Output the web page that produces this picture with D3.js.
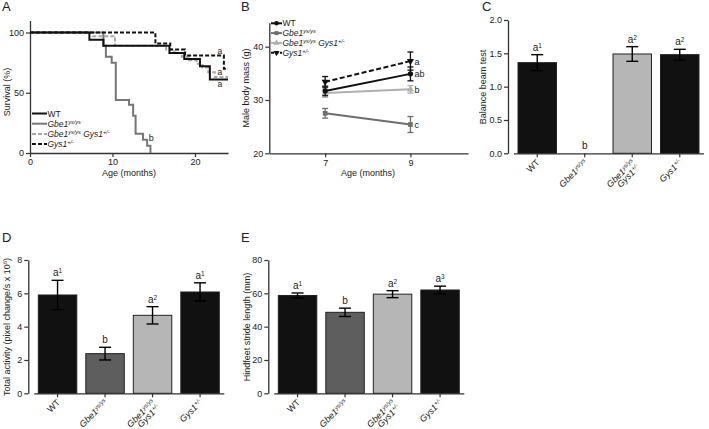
<!DOCTYPE html>
<html><head><meta charset="utf-8">
<script src="https://cdn.jsdelivr.net/npm/d3@7"></script>
<style>
body{margin:0;background:#fff}
text{font-family:"Liberation Sans",Arial,sans-serif;fill:#222}
</style></head><body><div id="fig"></div>
<script>
// ---- data ----
// A: Kaplan-Meier steps [age in months, survival %]
var survWT   = [[0,100],[7.2,94],[8.9,89],[16.9,83],[18.7,78],[20.6,72],[21.8,61],[24,61]];
var survGbe  = [[0,100],[8.9,89],[9.2,80],[9.9,75],[10.4,44],[12.0,40],[12.5,31],[12.8,16],[13.7,11],[14.2,6],[14.6,0]];
var survDbl  = [[0,100],[7.6,97],[10.3,89],[16.5,86],[17.5,83],[18.4,80],[19.3,77],[20.2,74],[20.9,71],[21.6,67],[22.4,63],[24,63]];
var survGys  = [[0,100],[15.2,91],[17.0,86],[18.8,81],[23.5,70],[24,70]];
var survSig  = [["a",85],["a",67],["a",57.5]];

// B: male body mass (g) at 7 and 9 months
var massAges = [7,9];
var massWT  = [31.7,34.9], massWTe  = [0.9,1.3];
var massGbe = [27.5,25.4], massGbee = [0.9,1.5];
var massDbl = [31.3,32.0], massDble = [0.8,0.7];
var massGys = [33.4,37.3], massGyse = [1.0,1.7];
var massSig = ["ab","c","b","a"];

// C, D, E: groups
var groups = ["WT","Gbe1","Dbl","Gys1"];
var balance = [1.36,0,1.49,1.48], balanceErr = [0.12,0,0.11,0.08], balanceSig = ["a1","b","a2","a2"];
var activity = [5.9,2.38,4.68,6.08], activityErr = [0.88,0.38,0.52,0.55], activitySig = ["a1","b","a2","a1"];
var stride = [58.7,48.6,59.5,62.0], strideErr = [1.5,2.5,2.1,2.3], strideSig = ["a1","b","a2","a3"];
var barColor = ["#111","#5e5e5e","#b6b6b6","#111"];

var svg = d3.select("#fig").append("svg").attr("width",709).attr("height",429);

// rich text: parts are [text, italic, superscript]
function rich(t, parts){
  var up = false;
  parts.forEach(function(p){
    var s = t.append("tspan").text(p[0]);
    if(p[1]) s.attr("font-style","italic");
    if(p[2] && !up){ s.attr("dy",-3).attr("font-size","0.65em"); up = true; }
    else if(!p[2] && up){ s.attr("dy",3); up = false; }
    else if(p[2]) s.attr("font-size","0.65em");
  });
  return t;
}
var names = {
  WT:[["WT"]],
  Gbe1:[["Gbe1",1],["ys/ys",1,1]],
  Dbl:[["Gbe1",1],["ys/ys",1,1],[" Gys1",1],["+/-",1,1]],
  Gys1:[["Gys1",1],["+/-",1,1]]
};
function sig(t, s){
  if(s.length>1) rich(t,[[s[0]],[s[1],0,1]]); else t.text(s);
}

function styleAxis(g){
  g.selectAll(".domain").attr("stroke","#333").attr("stroke-width",1.3);
  g.selectAll(".tick line").attr("stroke","#333").attr("stroke-width",1.2);
  g.selectAll(".tick text").attr("font-size",9).attr("fill","#333")
    .attr("font-family","Liberation Sans,Arial,sans-serif");
}
function letter(x,y,s){
  svg.append("text").attr("x",x).attr("y",y).attr("font-size",13).text(s);
}
function ytitle(x,cy,parts){
  var t = svg.append("text").attr("transform","translate("+x+","+cy+") rotate(-90)")
    .attr("text-anchor","middle").attr("font-size",9);
  rich(t,parts);
}

// ---------- A ----------
letter(2,11,"A");
var xA = d3.scaleLinear().domain([0,24]).range([30,228]);
var yA = d3.scaleLinear().domain([0,110]).range([153,20.5]);
svg.append("g").attr("transform","translate(0,153)")
  .call(d3.axisBottom(xA).tickValues([0,10,20]).tickSize(4).tickSizeOuter(0).tickPadding(2)).call(styleAxis);
svg.append("g").attr("transform","translate(30,0)")
  .call(d3.axisLeft(yA).tickValues([0,50,100]).tickSize(4).tickSizeOuter(0).tickPadding(2)).call(styleAxis);
svg.append("text").attr("x",129).attr("y",176).attr("text-anchor","middle").attr("font-size",9).text("Age (months)");
ytitle(10,92,[["Survival (%)"]]);

var stepLine = d3.line().x(function(d){return xA(d[0]);}).y(function(d){return yA(d[1]);}).curve(d3.curveStepAfter);
var survSeries = [
  {d:survDbl, c:"#a8a8a8", dash:"4,2", key:"Dbl"},
  {d:survGbe, c:"#777", dash:null, key:"Gbe1"},
  {d:survWT, c:"#111", dash:null, key:"WT"},
  {d:survGys, c:"#111", dash:"4,2", key:"Gys1"}
];
survSeries.forEach(function(s){
  svg.append("path").attr("d",stepLine(s.d)).attr("fill","none")
    .attr("stroke",s.c).attr("stroke-width",2).attr("stroke-dasharray",s.dash);
});
survSig.forEach(function(s){
  svg.append("text").attr("x",xA(23.0)).attr("y",yA(s[1])+3).attr("text-anchor","middle")
    .attr("font-size",8.5).text(s[0]);
});
svg.append("text").attr("x",xA(14.4)).attr("y",yA(12.5)+3).attr("font-size",9).text("b");
// legend A
["WT","Gbe1","Dbl","Gys1"].forEach(function(k,i){
  var s = survSeries.filter(function(q){return q.key===k;})[0];
  var y = 113.5 + i*10.2;
  svg.append("line").attr("x1",32).attr("x2",47).attr("y1",y).attr("y2",y)
    .attr("stroke",s.c).attr("stroke-width",2).attr("stroke-dasharray",s.dash);
  rich(svg.append("text").attr("x",47.5).attr("y",y+3).attr("font-size",8.5), names[k]);
});

// ---------- B ----------
letter(241,11,"B");
var xB = d3.scaleLinear().domain([5.69,10.35]).range([269.3,468]);
var yB = d3.scaleLinear().domain([20,44.5]).range([153.3,22.7]);
svg.append("g").attr("transform","translate(0,153.3)")
  .call(d3.axisBottom(xB).tickValues(massAges).tickFormat(d3.format("d")).tickSize(4).tickSizeOuter(0).tickPadding(2)).call(styleAxis);
svg.append("g").attr("transform","translate(269.3,0)")
  .call(d3.axisLeft(yB).tickValues([20,30,40]).tickSize(4).tickSizeOuter(0).tickPadding(2)).call(styleAxis);
svg.append("text").attr("x",368).attr("y",176).attr("text-anchor","middle").attr("font-size",9).text("Age (months)");
ytitle(249,88,[["Male body mass (g)"]]);

var massSeries = [
  {v:massDbl, e:massDble, c:"#b0b0b0", dash:null, sym:d3.symbolTriangle, rot:0, key:"Dbl"},
  {v:massGbe, e:massGbee, c:"#6f6f6f", dash:null, sym:d3.symbolSquare, rot:0, key:"Gbe1"},
  {v:massWT, e:massWTe, c:"#111", dash:null, sym:d3.symbolCircle, rot:0, key:"WT"},
  {v:massGys, e:massGyse, c:"#111", dash:"5,2.5", sym:d3.symbolTriangle, rot:180, key:"Gys1"}
];
var massLine = d3.line().x(function(d,i){return xB(massAges[i]);}).y(function(d){return yB(d);});
massSeries.forEach(function(s){
  s.v.forEach(function(v,i){
    var x = xB(massAges[i]);
    svg.append("line").attr("x1",x).attr("x2",x).attr("y1",yB(v-s.e[i])).attr("y2",yB(v+s.e[i]))
      .attr("stroke",s.c).attr("stroke-width",1.3);
    [v-s.e[i],v+s.e[i]].forEach(function(w){
      svg.append("line").attr("x1",x-3).attr("x2",x+3).attr("y1",yB(w)).attr("y2",yB(w))
        .attr("stroke",s.c).attr("stroke-width",1.3);
    });
  });
  svg.append("path").attr("d",massLine(s.v)).attr("fill","none").attr("stroke",s.c)
    .attr("stroke-width",2).attr("stroke-dasharray",s.dash);
  s.v.forEach(function(v,i){
    svg.append("path").attr("d",d3.symbol().type(s.sym).size(22)())
      .attr("transform","translate("+xB(massAges[i])+","+yB(v)+") rotate("+s.rot+")").attr("fill",s.c);
  });
});
[massWT,massGbe,massDbl,massGys].forEach(function(v,i){
  svg.append("text").attr("x",xB(9)+4).attr("y",yB(v[1])+3.5).attr("font-size",9).text(massSig[i]);
});
// legend B
["WT","Gbe1","Dbl","Gys1"].forEach(function(k,i){
  var s = massSeries.filter(function(q){return q.key===k;})[0];
  var y = 23.3 + i*9.8;
  svg.append("line").attr("x1",271).attr("x2",282).attr("y1",y).attr("y2",y)
    .attr("stroke",s.c).attr("stroke-width",2).attr("stroke-dasharray",k==="Gys1"?"3,1.5":null);
  svg.append("path").attr("d",d3.symbol().type(s.sym).size(16)())
    .attr("transform","translate(276.5,"+y+") rotate("+s.rot+")").attr("fill",s.c);
  rich(svg.append("text").attr("x",282.5).attr("y",y+3).attr("font-size",8.5), names[k]);
});

// ---------- bar panels ----------
function barPanel(ox, oy, vals, errs, sigs, domain, ticks, lx){
  var x = d3.scaleBand().domain(groups).range([ox+5.5, ox+195.5]).paddingInner(0.19).paddingOuter(0.095);
  var y = d3.scaleLinear().domain(domain).range([oy+133.3, oy]);
  var g = svg.append("g");
  g.selectAll("rect.bar").data(vals).enter().append("rect").attr("class","bar")
    .attr("x",function(d,i){return x(groups[i]);}).attr("width",x.bandwidth())
    .attr("y",function(d){return y(d);}).attr("height",function(d){return y(domain[0])-y(d);})
    .attr("fill",function(d,i){return barColor[i];}).attr("stroke","#222").attr("stroke-width",1);
  vals.forEach(function(v,i){
    var cx = x(groups[i]) + x.bandwidth()/2;
    if(errs[i]>0){
      svg.append("line").attr("x1",cx).attr("x2",cx).attr("y1",y(v-errs[i])).attr("y2",y(v+errs[i]))
        .attr("stroke","#000").attr("stroke-width",1.4);
      [v-errs[i],v+errs[i]].forEach(function(w){
        svg.append("line").attr("x1",cx-6).attr("x2",cx+6).attr("y1",y(w)).attr("y2",y(w))
          .attr("stroke","#000").attr("stroke-width",1.4);
      });
    }
    var t = svg.append("text").attr("x",cx).attr("y",y(v+errs[i])-4).attr("text-anchor","middle").attr("font-size",10);
    sig(t, sigs[i]);
  });
  svg.append("g").attr("transform","translate(0,"+(oy+133.3)+")")
    .call(d3.axisBottom(x).tickSize(4).tickSizeOuter(0).tickFormat("")).call(styleAxis);
  svg.append("g").attr("transform","translate("+ox+",0)")
    .call(d3.axisLeft(y).tickValues(ticks).tickSize(4).tickSizeOuter(0).tickPadding(2)
      .tickFormat(domain[1]<5?d3.format(".1f"):d3.format("d"))).call(styleAxis);
  // rotated group labels
  groups.forEach(function(k,i){
    var cx = x(k) + x.bandwidth()/2 + 3;
    var t = svg.append("text").attr("transform","translate("+cx+","+(oy+143)+") rotate(-45)")
      .attr("text-anchor","end").attr("font-size",9).attr("fill","#333");
    if(k==="Dbl"){
      rich(t.append("tspan").attr("x",0), names.Gbe1);
      rich(t.append("tspan").attr("x",0).attr("dy","1.15em"), names.Gys1);
    } else rich(t, names[k]);
  });
  var tt = svg.append("text").attr("transform","translate("+lx+","+(oy+67)+") rotate(-90)")
    .attr("text-anchor","middle").attr("font-size",9);
  return tt;
}

letter(482,11,"C");
rich(barPanel(508,20,balance,balanceErr,balanceSig,[0,2],[0,0.5,1,1.5,2],486),[["Balance beam test"]]);

letter(2,242,"D");
rich(barPanel(28.3,260,activity,activityErr,activitySig,[0,8],[0,2,4,6,8],10),
  [["Total activity (pixel change/s x 10"],["6",0,1],[")"]]);

letter(241,242,"E");
rich(barPanel(268.3,260,stride,strideErr,strideSig,[0,80],[0,20,40,60,80],250),
  [["Hindfeet stride length (mm)"]]);
</script></body></html>
